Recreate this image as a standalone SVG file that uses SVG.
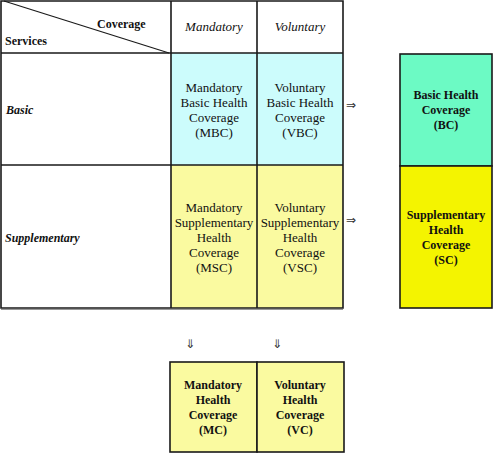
<svg xmlns="http://www.w3.org/2000/svg" width="493" height="453" viewBox="0 0 493 453">
<style>
text{font-family:"Liberation Serif","Times New Roman",serif;fill:#111}
.r{font-size:13px;text-anchor:middle}
.i{font-size:13px;font-style:italic;text-anchor:middle}
.b{font-size:12px;font-weight:bold;text-anchor:middle}
.h{font-size:12px;font-weight:bold}
.bi{font-size:12px;font-weight:bold;font-style:italic}
.ar{font-family:"DejaVu Sans",sans-serif;font-size:12px;fill:#333}
.ln{stroke:#1a1a1a;stroke-width:1.6;fill:none}
.cy{fill:#ccfcfc}
.ly{fill:#fafaa0}
.gr{fill:#6cfac4}
.ye{fill:#f4f400}
</style>
<g id="table">
<rect x="171" y="53" width="172" height="112" class="cy"/>
<rect x="171" y="165" width="172" height="143" class="ly"/>
<path class="ln" d="M1,1H343V308H1Z M171,1V308 M257,1V308 M1,53H343 M1,165H343"/>
<line x1="4" y1="1" x2="169" y2="53" stroke="#1a1a1a" stroke-width="1.2"/>
<line x1="1" y1="309.5" x2="343" y2="309.5" stroke="#999" stroke-width="1"/>
<text class="h" x="97" y="28">Coverage</text>
<text class="h" x="5" y="45">Services</text>
<text class="i" x="214" y="31">Mandatory</text>
<text class="i" x="300" y="31">Voluntary</text>
<text class="bi" x="6" y="114">Basic</text>
<text class="bi" x="5" y="242">Supplementary</text>
</g>
<g id="MBC">
<text class="r" x="214" y="92">Mandatory</text>
<text class="r" x="214" y="107">Basic Health</text>
<text class="r" x="214" y="122">Coverage</text>
<text class="r" x="214" y="137">(MBC)</text>
</g>
<g id="VBC">
<text class="r" x="300" y="92">Voluntary</text>
<text class="r" x="300" y="107">Basic Health</text>
<text class="r" x="300" y="122">Coverage</text>
<text class="r" x="300" y="137">(VBC)</text>
</g>
<g id="MSC">
<text class="r" x="214" y="212">Mandatory</text>
<text class="r" x="214" y="227">Supplementary</text>
<text class="r" x="214" y="242">Health</text>
<text class="r" x="214" y="257">Coverage</text>
<text class="r" x="214" y="272">(MSC)</text>
</g>
<g id="VSC">
<text class="r" x="300" y="212">Voluntary</text>
<text class="r" x="300" y="227">Supplementary</text>
<text class="r" x="300" y="242">Health</text>
<text class="r" x="300" y="257">Coverage</text>
<text class="r" x="300" y="272">(VSC)</text>
</g>
<g id="BC">
<rect x="400" y="54" width="92" height="112" class="gr"/>
<rect x="400" y="54" width="92" height="112" class="ln"/>
<text class="b" x="446" y="99">Basic Health</text>
<text class="b" x="446" y="114">Coverage</text>
<text class="b" x="446" y="129">(BC)</text>
</g>
<g id="SC">
<rect x="400" y="166" width="92" height="142" class="ye"/>
<rect x="400" y="166" width="92" height="142" class="ln"/>
<text class="b" x="446" y="219">Supplementary</text>
<text class="b" x="446" y="234">Health</text>
<text class="b" x="446" y="249">Coverage</text>
<text class="b" x="446" y="264">(SC)</text>
</g>
<g id="MC">
<rect x="170" y="362" width="87" height="90" class="ly"/>
<rect x="170" y="362" width="87" height="90" class="ln"/>
<text class="b" x="213" y="389">Mandatory</text>
<text class="b" x="213" y="404">Health</text>
<text class="b" x="213" y="419">Coverage</text>
<text class="b" x="213" y="434">(MC)</text>
</g>
<g id="VC">
<rect x="257" y="362" width="87" height="90" class="ly"/>
<rect x="257" y="362" width="87" height="90" class="ln"/>
<text class="b" x="300" y="389">Voluntary</text>
<text class="b" x="300" y="404">Health</text>
<text class="b" x="300" y="419">Coverage</text>
<text class="b" x="300" y="434">(VC)</text>
</g>
<g id="connectors">
<text class="ar" x="346" y="109">⇒</text>
<text class="ar" x="346" y="224">⇒</text>
<text class="ar" x="185" y="348">⇓</text>
<text class="ar" x="272" y="348">⇓</text>
</g>
</svg>
